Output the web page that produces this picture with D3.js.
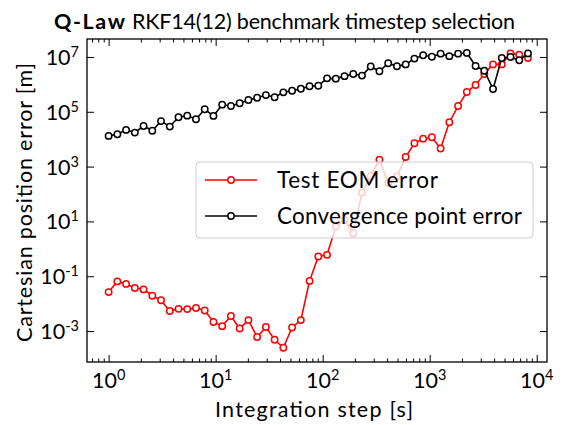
<!DOCTYPE html>
<html><head><meta charset="utf-8">
<script src="https://cdn.jsdelivr.net/npm/d3@7"></script>
<style>body{margin:0;background:#fff}svg{display:block}text{font-family:Lato,"Open Sans",sans-serif;fill:#000}</style>
</head><body><svg id="c" width="572" height="425"></svg>
<script>
const steps = [1,1.207,1.456,1.758,2.121,2.560,3.089,3.728,4.498,5.429,6.551,7.906,9.541,11.51,13.89,16.77,20.24,24.42,29.47,35.56,42.92,51.79,62.51,75.44,91.03,109.9,132.6,160.0,193.1,233.0,281.2,339.3,409.5,494.2,596.4,719.7,868.5,1048,1265,1526,1842,2223,2683,3237,3907,4715,5690,6866,8286];
const eomError = [0.0263,0.0646,0.0525,0.0372,0.0331,0.0195,0.0132,0.00537,0.00646,0.00631,0.00692,0.00562,0.00214,0.00151,0.00355,0.00123,0.00251,0.000603,0.00141,0.000479,0.000245,0.00135,0.00251,0.0676,0.525,0.603,6.46,11.5,3.72,112,457,1778,251,437,2239,7079,10470,11750,4571,41690,162200,524800,955000,2.40e6,5.37e6,5.37e6,1.35e7,1.20e7,9.12e6];
const convError = [13180,15140,21880,17380,30200,20420,45710,28840,63100,72440,53700,123000,70800,182000,162000,204000,269000,324000,407000,339000,513000,589000,692000,851000,891000,1.66e6,1.62e6,2.00e6,2.40e6,2.09e6,4.47e6,3.02e6,5.89e6,4.57e6,5.37e6,8.71e6,1.15e7,1.02e7,1.32e7,1.07e7,1.32e7,1.41e7,4.68e6,3.16e6,6.76e5,9.12e6,1.00e7,7.59e6,1.35e7];
const xTickExp = [0,1,2,3,4];
const yTickExp = [-3,-1,1,3,5,7];
const seriesNames = ["Test EOM error","Convergence point error"];
const seriesColors = ["#ff0000","#000000"];
const titleBold = "Q-Law";
const titleRest = "RKF14(12) benchmark timestep selection";
const xLabel = "Integration step [s]";
const yLabel = "Cartesian position error [m]";

const svg = d3.select("#c");
const L=87,R=547,T=39,B=362;
const x = d3.scaleLog().domain([Math.pow(10,-0.202),Math.pow(10,4.096)]).range([L,R]);
const y = d3.scaleLog().domain([Math.pow(10,-4.13),Math.pow(10,7.656)]).range([B,T]);

const minorX=[];
for(let k=-1;k<=4;k++) for(let m=2;m<=9;m++){const v=m*Math.pow(10,k); if(v>x.domain()[0]&&v<x.domain()[1]) minorX.push(v);}
const majX = xTickExp.map(e=>Math.pow(10,e));
const majY = yTickExp.map(e=>Math.pow(10,e));

function styleAxis(g){g.select(".domain").remove();g.selectAll("line").attr("stroke","#000").attr("stroke-width",1);}
svg.append("g").attr("transform",`translate(0,${B})`).call(d3.axisBottom(x).tickValues(minorX).tickSize(-3.5).tickFormat("")).call(styleAxis);
svg.append("g").attr("transform",`translate(0,${B})`).call(d3.axisBottom(x).tickValues(majX).tickSize(-7).tickFormat("")).call(styleAxis);
svg.append("g").attr("transform",`translate(0,${T})`).call(d3.axisTop(x).tickValues(minorX).tickSize(-3.5).tickFormat("")).call(styleAxis);
svg.append("g").attr("transform",`translate(0,${T})`).call(d3.axisTop(x).tickValues(majX).tickSize(-7).tickFormat("")).call(styleAxis);
svg.append("g").attr("transform",`translate(${L},0)`).call(d3.axisLeft(y).tickValues(majY).tickSize(-7).tickFormat("")).call(styleAxis);
svg.append("g").attr("transform",`translate(${R},0)`).call(d3.axisRight(y).tickValues(majY).tickSize(-7).tickFormat("")).call(styleAxis);

svg.append("rect").attr("x",L).attr("y",T).attr("width",R-L).attr("height",B-T).attr("fill","none").attr("stroke","#000").attr("stroke-width",1.3);

xTickExp.forEach(e=>{
  const t=svg.append("text").attr("x",x(Math.pow(10,e))).attr("y",388).attr("text-anchor","middle").attr("font-size",21.5);
  t.append("tspan").text("10");
  t.append("tspan").attr("dy",-8).attr("font-size",14.5).text(e);
});
yTickExp.forEach(e=>{
  const t=svg.append("text").attr("x",79).attr("y",y(Math.pow(10,e))+8).attr("text-anchor","end").attr("font-size",21.5);
  t.append("tspan").text("10");
  t.append("tspan").attr("dy",-8).attr("font-size",14.5).text(e);
});

svg.append("text").attr("x",215).attr("y",416.5).attr("font-size",21.5)
  .attr("textLength",198).attr("lengthAdjust","spacing").text(xLabel);
svg.append("text").attr("transform",`translate(32,342) rotate(-90)`).attr("font-size",21.5)
  .attr("textLength",279).attr("lengthAdjust","spacing").text(yLabel);

svg.append("text").attr("x",54).attr("y",28.5).attr("font-size",21.5).attr("font-weight","bold")
  .attr("textLength",71).attr("lengthAdjust","spacing").text(titleBold);
svg.append("text").attr("x",132).attr("y",28.5).attr("font-size",21.5)
  .attr("textLength",383).attr("lengthAdjust","spacing").text(titleRest);

const data=[eomError,convError];
const line=d3.line().x((d,i)=>x(steps[i])).y(d=>y(d));
const plot=svg.append("g");
data.forEach((s,k)=>{
  plot.append("path").datum(s).attr("d",line).attr("fill","none").attr("stroke",seriesColors[k]).attr("stroke-width",1.6);
  plot.selectAll(null).data(s).enter().append("circle").attr("cx",(d,i)=>x(steps[i])).attr("cy",d=>y(d)).attr("r",3.2)
    .attr("fill","#fff").attr("stroke",seriesColors[k]).attr("stroke-width",1.5);
});

const legendWidths=[161,245];
const lg=svg.append("g");
lg.append("rect").attr("x",196).attr("y",162).attr("width",337).attr("height",76).attr("rx",4)
  .attr("fill","#fff").attr("fill-opacity",0.8).attr("stroke","#cccccc").attr("stroke-width",1);
seriesNames.forEach((n,k)=>{
  const yy=180+k*36;
  lg.append("line").attr("x1",205).attr("x2",257).attr("y1",yy).attr("y2",yy).attr("stroke",seriesColors[k]).attr("stroke-width",1.6);
  lg.append("circle").attr("cx",231).attr("cy",yy).attr("r",3.2).attr("fill","#fff").attr("stroke",seriesColors[k]).attr("stroke-width",1.5);
  lg.append("text").attr("x",277).attr("y",yy+8).attr("font-size",22.5)
    .attr("textLength",legendWidths[k]).attr("lengthAdjust","spacing").text(n);
});
</script></body></html>
